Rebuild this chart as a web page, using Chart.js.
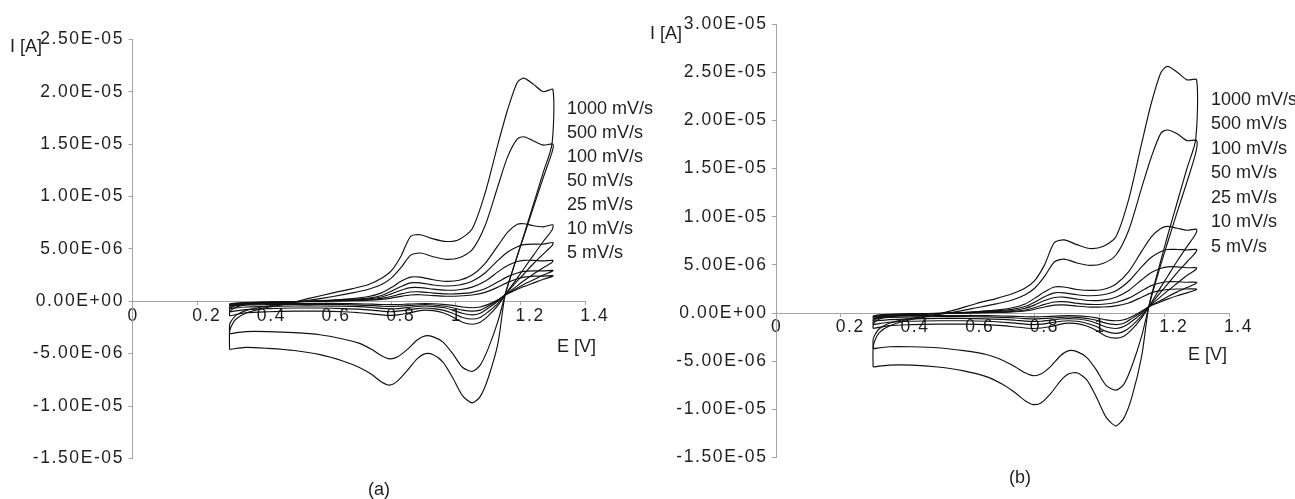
<!DOCTYPE html>
<html>
<head>
<meta charset="utf-8">
<title>Cyclic voltammograms at different scan rates</title>
<script src="https://cdn.jsdelivr.net/npm/chart.js@4.4.0/dist/chart.umd.min.js"></script>
<style>
  html, body { margin: 0; padding: 0; background: #ffffff; }
  #wrap { position: relative; width: 1295px; height: 499px; overflow: hidden; background: #ffffff; }
  canvas { position: absolute; top: 0; }
  #cvA { left: 0; }
  #cvB { left: 645px; }
</style>
</head>
<body>
<div id="wrap">
  <canvas id="cvA" width="655" height="499"></canvas>
  <canvas id="cvB" width="650" height="499"></canvas>
</div>
<script>
// Scan-rate labels, fastest first
const scanRates = ['1000 mV/s', '500 mV/s', '100 mV/s', '50 mV/s', '25 mV/s', '10 mV/s', '5 mV/s'];

// Potential grid (V): anodic sweep 0.30 -> 1.30, then cathodic sweep back to 0.30
const potentialForward = [0.300, 0.300, 0.305, 0.32, 0.35, 0.40, 0.47, 0.55, 0.62, 0.68, 0.73, 0.77, 0.80, 0.83, 0.86, 0.89, 0.93, 0.97, 1.01, 1.05, 1.09, 1.13, 1.16, 1.19, 1.21, 1.24, 1.27, 1.30];
const potentialReverse = [1.297, 1.27, 1.24, 1.21, 1.18, 1.152, 1.13, 1.10, 1.075, 1.05, 1.02, 0.99, 0.96, 0.93, 0.905, 0.88, 0.85, 0.82, 0.795, 0.77, 0.74, 0.70, 0.65, 0.58, 0.50, 0.42, 0.35, 0.30];

// Currents in microamperes — panel (a)
const a1000Fwd = [-4.6, -3.0, -2.4, -1.7, -1.15, -0.7, -0.3, 0.3, 0.8, 1.2, 1.6, 2.2, 2.9, 4.3, 6.2, 6.35, 5.95, 5.7, 5.9, 6.9, 10.3, 15.0, 18.3, 20.9, 21.3, 20.7, 20.0, 20.2];
const a1000Rev = [15.0, 12.3, 9.3, 6.3, 3.4, 0.6, -4.0, -7.3, -9.1, -9.7, -9.0, -7.3, -5.8, -5.1, -5.0, -5.5, -6.6, -7.6, -8.0, -7.7, -7.0, -6.3, -5.7, -5.1, -4.7, -4.5, -4.4, -4.6];
const a500Fwd = [-3.1, -2.3, -1.9, -1.35, -0.9, -0.55, -0.25, 0.1, 0.45, 0.8, 1.15, 1.6, 2.2, 3.2, 4.4, 4.6, 4.25, 4.0, 4.15, 4.9, 7.2, 11.0, 13.8, 15.5, 15.7, 15.3, 14.9, 15.0];
const a500Rev = [14.2, 11.8, 9.0, 6.2, 3.4, 0.6, -1.9, -4.5, -6.1, -6.7, -6.3, -5.0, -3.9, -3.4, -3.3, -3.7, -4.6, -5.3, -5.5, -5.2, -4.6, -4.0, -3.6, -3.2, -3.0, -2.9, -2.9, -3.1];
const a100Fwd = [-1.4, -1.1, -0.85, -0.55, -0.35, -0.22, -0.12, 0.0, 0.12, 0.25, 0.45, 0.8, 1.3, 1.9, 2.3, 2.3, 2.05, 1.9, 2.0, 2.5, 3.6, 5.3, 6.6, 7.35, 7.4, 7.2, 7.1, 7.3];
const a100Rev = [6.8, 5.7, 4.4, 3.1, 1.8, 0.6, -0.4, -1.4, -2.0, -2.2, -2.0, -1.5, -1.1, -0.9, -0.85, -0.95, -1.15, -1.3, -1.35, -1.3, -1.2, -1.1, -1.0, -0.95, -0.95, -1.0, -1.1, -1.4];
const a50Fwd = [-1.0, -0.8, -0.6, -0.4, -0.25, -0.15, -0.08, 0.0, 0.08, 0.18, 0.3, 0.55, 0.95, 1.4, 1.75, 1.75, 1.55, 1.45, 1.55, 1.9, 2.7, 3.9, 4.7, 5.2, 5.4, 5.45, 5.45, 5.6];
const a50Rev = [5.3, 4.5, 3.6, 2.6, 1.6, 0.6, -0.2, -1.0, -1.55, -1.7, -1.55, -1.15, -0.85, -0.7, -0.65, -0.7, -0.85, -0.95, -1.0, -0.95, -0.85, -0.75, -0.7, -0.65, -0.65, -0.7, -0.8, -1.0];
const a25Fwd = [-0.7, -0.55, -0.45, -0.3, -0.2, -0.12, -0.06, 0.0, 0.05, 0.12, 0.22, 0.4, 0.7, 1.05, 1.3, 1.3, 1.15, 1.05, 1.1, 1.35, 1.9, 2.8, 3.4, 3.8, 3.9, 3.9, 3.85, 3.9];
const a25Rev = [3.7, 3.2, 2.6, 1.95, 1.25, 0.6, 0.0, -0.65, -1.15, -1.3, -1.15, -0.85, -0.6, -0.5, -0.45, -0.5, -0.6, -0.7, -0.72, -0.68, -0.6, -0.52, -0.48, -0.45, -0.45, -0.5, -0.55, -0.7];
const a10Fwd = [-0.45, -0.38, -0.3, -0.22, -0.15, -0.1, -0.05, 0.0, 0.03, 0.07, 0.14, 0.27, 0.45, 0.7, 0.88, 0.9, 0.78, 0.7, 0.72, 0.85, 1.2, 1.85, 2.35, 2.7, 2.85, 2.9, 2.9, 2.95];
const a10Rev = [2.85, 2.5, 2.05, 1.6, 1.1, 0.6, 0.1, -0.45, -0.85, -0.95, -0.85, -0.62, -0.45, -0.36, -0.33, -0.36, -0.42, -0.48, -0.5, -0.47, -0.42, -0.37, -0.33, -0.3, -0.3, -0.32, -0.36, -0.45];
const a5Fwd = [-0.3, -0.26, -0.22, -0.17, -0.12, -0.08, -0.04, -0.01, 0.02, 0.05, 0.1, 0.18, 0.3, 0.47, 0.6, 0.62, 0.54, 0.48, 0.5, 0.6, 0.85, 1.35, 1.8, 2.15, 2.3, 2.4, 2.4, 2.45];
const a5Rev = [2.35, 2.1, 1.75, 1.4, 1.0, 0.6, 0.15, -0.3, -0.55, -0.62, -0.55, -0.4, -0.3, -0.24, -0.22, -0.24, -0.28, -0.32, -0.33, -0.31, -0.28, -0.25, -0.22, -0.2, -0.2, -0.22, -0.25, -0.3];

// Currents in microamperes — panel (b)
const b1000Fwd = [-5.6, -3.7, -2.9, -2.0, -1.35, -0.8, -0.35, 0.3, 1.0, 1.5, 2.0, 2.6, 3.4, 5.0, 7.3, 7.6, 7.1, 6.7, 6.9, 7.9, 11.8, 17.6, 21.8, 25.0, 25.6, 25.0, 24.2, 24.2];
const b1000Rev = [18.0, 15.0, 11.5, 8.0, 4.3, 0.65, -4.5, -8.7, -10.9, -11.7, -10.8, -8.7, -6.9, -6.2, -6.3, -7.0, -8.3, -9.3, -9.5, -9.1, -8.3, -7.4, -6.6, -6.0, -5.6, -5.4, -5.4, -5.6];
const b500Fwd = [-3.7, -2.8, -2.3, -1.6, -1.05, -0.65, -0.3, 0.1, 0.55, 0.95, 1.35, 1.9, 2.6, 3.8, 5.3, 5.6, 5.2, 4.95, 5.15, 6.0, 8.6, 13.0, 16.2, 18.7, 19.0, 18.6, 17.9, 17.9];
const b500Rev = [16.6, 13.6, 10.5, 7.3, 4.0, 0.65, -2.4, -5.5, -7.4, -8.0, -7.5, -5.9, -4.6, -4.0, -3.9, -4.4, -5.5, -6.3, -6.5, -6.2, -5.6, -4.9, -4.3, -3.9, -3.6, -3.5, -3.5, -3.7];
const b100Fwd = [-1.6, -1.3, -0.95, -0.6, -0.38, -0.24, -0.12, 0.0, 0.15, 0.3, 0.55, 0.95, 1.55, 2.2, 2.7, 2.7, 2.45, 2.35, 2.45, 3.0, 4.3, 6.4, 7.9, 8.8, 9.0, 8.8, 8.6, 8.7];
const b100Rev = [8.2, 6.9, 5.4, 3.8, 2.2, 0.65, -0.5, -1.7, -2.4, -2.6, -2.4, -1.8, -1.35, -1.1, -1.05, -1.15, -1.4, -1.55, -1.6, -1.55, -1.45, -1.3, -1.2, -1.15, -1.15, -1.2, -1.3, -1.6];
const b50Fwd = [-1.2, -0.95, -0.7, -0.45, -0.28, -0.17, -0.08, 0.0, 0.1, 0.22, 0.38, 0.68, 1.15, 1.7, 2.1, 2.1, 1.9, 1.8, 1.9, 2.3, 3.3, 4.8, 5.8, 6.4, 6.6, 6.6, 6.55, 6.6];
const b50Rev = [6.3, 5.3, 4.2, 3.0, 1.8, 0.65, -0.3, -1.3, -1.9, -2.1, -1.9, -1.4, -1.05, -0.85, -0.8, -0.85, -1.0, -1.15, -1.2, -1.15, -1.05, -0.95, -0.85, -0.8, -0.8, -0.85, -0.95, -1.2];
const b25Fwd = [-0.85, -0.68, -0.52, -0.35, -0.22, -0.14, -0.07, 0.0, 0.06, 0.15, 0.27, 0.5, 0.85, 1.3, 1.62, 1.65, 1.45, 1.3, 1.35, 1.65, 2.35, 3.45, 4.2, 4.65, 4.8, 4.8, 4.7, 4.7];
const b25Rev = [4.5, 3.9, 3.1, 2.3, 1.45, 0.65, -0.05, -0.85, -1.4, -1.6, -1.45, -1.05, -0.75, -0.62, -0.58, -0.62, -0.74, -0.85, -0.88, -0.84, -0.75, -0.65, -0.6, -0.56, -0.56, -0.6, -0.68, -0.85];
const b10Fwd = [-0.55, -0.46, -0.36, -0.26, -0.17, -0.11, -0.05, 0.0, 0.04, 0.09, 0.17, 0.32, 0.58, 0.9, 1.15, 1.18, 1.02, 0.9, 0.92, 1.1, 1.55, 2.3, 2.85, 3.15, 3.25, 3.25, 3.2, 3.2];
const b10Rev = [3.05, 2.65, 2.2, 1.7, 1.15, 0.65, 0.1, -0.55, -1.05, -1.2, -1.05, -0.75, -0.55, -0.44, -0.41, -0.44, -0.52, -0.58, -0.6, -0.57, -0.51, -0.45, -0.4, -0.37, -0.37, -0.4, -0.45, -0.55];
const b5Fwd = [-0.38, -0.32, -0.26, -0.19, -0.13, -0.08, -0.04, -0.01, 0.02, 0.06, 0.12, 0.22, 0.4, 0.63, 0.82, 0.85, 0.72, 0.62, 0.63, 0.75, 1.05, 1.65, 2.1, 2.35, 2.45, 2.5, 2.5, 2.5];
const b5Rev = [2.4, 2.1, 1.8, 1.45, 1.05, 0.65, 0.2, -0.35, -0.7, -0.8, -0.7, -0.5, -0.36, -0.29, -0.27, -0.29, -0.34, -0.38, -0.4, -0.38, -0.34, -0.3, -0.27, -0.25, -0.25, -0.27, -0.31, -0.38];

// Axis ranges (current axis in microamperes, labelled in amperes)
const potentialMin = 0, potentialMax = 1.4, potentialStep = 0.2;
const currentStep = 5;
const currentRangeA = [-15, 25];
const currentRangeB = [-15, 30];

const FONT = 'Arial, "Liberation Sans", Helvetica, sans-serif';
const TICK_SIZE = 17.5;
const CAPTION_SIZE = 18;
const TICK_SPACING = '1.6px';
const INK = '#1e1e1e';
const AXIS = '#a3a3a3';
Chart.defaults.font.family = FONT;
Chart.defaults.font.size = TICK_SIZE;
Chart.defaults.color = INK;

// Join anodic and cathodic sweeps into one closed voltammogram
function voltammogram(fwd, rev) {
  const pts = [];
  potentialForward.forEach((e, i) => pts.push({ x: e, y: fwd[i] }));
  potentialReverse.forEach((e, i) => pts.push({ x: e, y: rev[i] }));
  return pts;
}

// µA value -> "2.50E-05" style label in amperes
function ampLabel(v) {
  const amps = v * 1e-6;
  if (Math.abs(amps) < 1e-12) return '0.00E+00';
  const parts = amps.toExponential(2).split('e');
  const ex = parseInt(parts[1], 10);
  return parts[0] + 'E' + (ex < 0 ? '-' : '+') + String(Math.abs(ex)).padStart(2, '0');
}

function voltLabel(v) {
  return String(Math.round(v * 10) / 10);
}

// Tick numbers are set slightly tracked out; captions use normal spacing
const tracking = {
  id: 'tracking',
  beforeDraw(chart) {
    if ('letterSpacing' in chart.ctx) chart.ctx.letterSpacing = TICK_SPACING;
  }
};

// Free-standing captions: axis names, panel letter and scan-rate column
const captions = {
  id: 'captions',
  afterDraw(chart, args, opts) {
    const ctx = chart.ctx;
    ctx.save();
    if ('letterSpacing' in ctx) ctx.letterSpacing = '0px';
    ctx.font = CAPTION_SIZE + 'px ' + FONT;
    ctx.fillStyle = INK;
    ctx.textBaseline = 'middle';
    opts.items.forEach(t => {
      ctx.textAlign = t.align || 'left';
      ctx.fillText(t.text, t.x, t.y);
    });
    ctx.restore();
  }
};

function panel(canvasId, curves, yRange, box, items) {
  return new Chart(document.getElementById(canvasId), {
    type: 'scatter',
    data: {
      datasets: curves.map((c, i) => ({
        label: scanRates[i],
        data: voltammogram(c[0], c[1]),
        showLine: true,
        pointRadius: 0,
        pointHoverRadius: 0,
        borderColor: '#111111',
        borderWidth: 1.15,
        tension: 0.25,
        fill: false
      }))
    },
    options: {
      responsive: false,
      animation: false,
      devicePixelRatio: 1,
      layout: { padding: { left: 0, top: box.top, right: box.right, bottom: box.bottom } },
      plugins: {
        legend: { display: false },
        tooltip: { enabled: false },
        captions: { items: items }
      },
      scales: {
        x: {
          type: 'linear',
          min: potentialMin,
          max: potentialMax,
          position: { y: 0 },
          ticks: {
            stepSize: potentialStep,
            autoSkip: false,
            maxRotation: 0,
            align: 'start',
            labelOffset: -5,
            padding: 1,
            color: INK,
            callback: voltLabel
          },
          grid: { drawOnChartArea: false, drawTicks: true, tickLength: 3, color: AXIS },
          border: { display: true, color: AXIS, width: 1 }
        },
        y: {
          type: 'linear',
          min: yRange[0],
          max: yRange[1],
          position: 'left',
          ticks: { stepSize: currentStep, padding: 4.5, color: INK, callback: ampLabel },
          grid: { drawOnChartArea: false, drawTicks: true, tickLength: 4, color: AXIS },
          border: { display: true, color: AXIS, width: 1 },
          afterFit(scale) { scale.width = box.axisWidth; }
        }
      }
    },
    plugins: [tracking, captions]
  });
}

const legendRowsA = [109, 133.5, 157.5, 181.5, 205.5, 229.5, 253.5];
const legendRowsB = [100, 124.5, 149, 173.5, 198, 222.5, 247];

panel('cvA',
  [[a1000Fwd, a1000Rev], [a500Fwd, a500Rev], [a100Fwd, a100Rev], [a50Fwd, a50Rev],
   [a25Fwd, a25Rev], [a10Fwd, a10Rev], [a5Fwd, a5Rev]],
  currentRangeA,
  { axisWidth: 132.5, top: 39.3, right: 69.7, bottom: 40.6 },
  [
    { text: 'I [A]', x: 10, y: 47 },
    { text: 'E [V]', x: 557, y: 347 },
    { text: '(a)', x: 379, y: 490, align: 'center' }
  ].concat(scanRates.map((s, i) => ({ text: s, x: 567, y: legendRowsA[i] })))
);

panel('cvB',
  [[b1000Fwd, b1000Rev], [b500Fwd, b500Rev], [b100Fwd, b100Rev], [b50Fwd, b50Rev],
   [b25Fwd, b25Rev], [b10Fwd, b10Rev], [b5Fwd, b5Rev]],
  currentRangeB,
  { axisWidth: 131, top: 24, right: 66, bottom: 41.4 },
  [
    { text: 'I [A]', x: 5, y: 34 },
    { text: 'E [V]', x: 543, y: 355 },
    { text: '(b)', x: 375, y: 478, align: 'center' }
  ].concat(scanRates.map((s, i) => ({ text: s, x: 566, y: legendRowsB[i] })))
);
</script>
</body>
</html>
